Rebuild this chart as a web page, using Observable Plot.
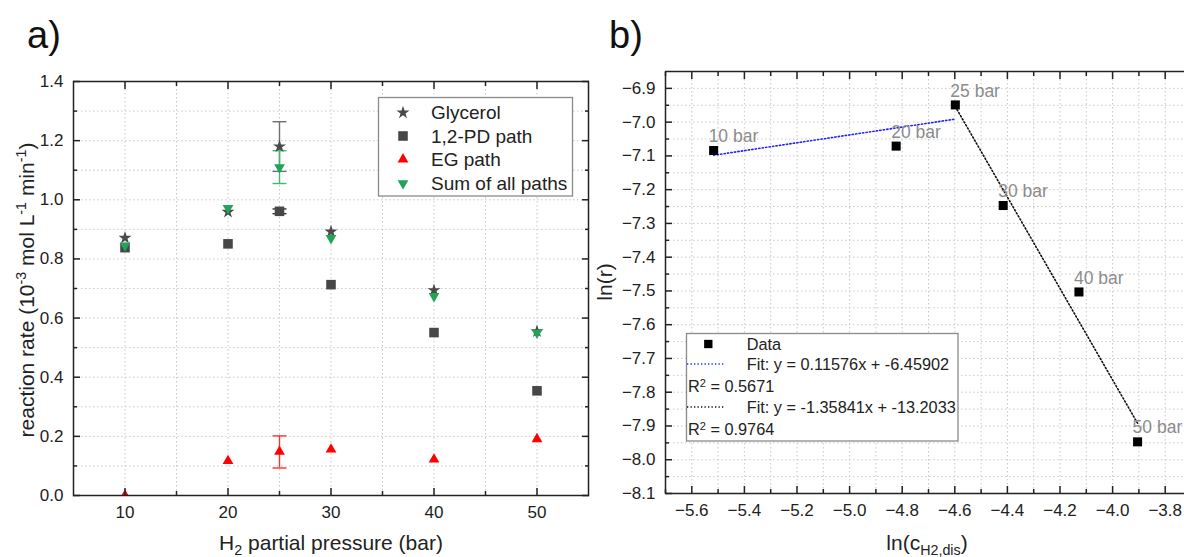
<!DOCTYPE html>
<html><head><meta charset="utf-8">
<script src="https://cdn.jsdelivr.net/npm/d3@7"></script>
<script src="https://cdn.jsdelivr.net/npm/@observablehq/plot@0.6"></script>
<style>
html,body{margin:0;padding:0;background:#fff;overflow:hidden;}
#wrap{position:relative;width:1184px;height:557px;overflow:hidden;font-family:"Liberation Sans",Arial,sans-serif;}
</style></head><body><div id="wrap"></div>
<script>
// ---------- panel a) data ----------
const pressure   = [10, 20, 25, 30, 40, 50];
const glycerol   = [0.871, 0.959, 1.180, 0.892, 0.694, 0.555];
const pd12Path   = [0.838, 0.851, 0.961, 0.713, 0.551, 0.354];
const egPath     = [0.0, 0.117, 0.148, 0.156, 0.122, 0.191];
const sumPaths   = [0.845, 0.972, 1.110, 0.870, 0.674, 0.550];

const errSeries   = ["Glycerol", "1,2-PD path", "EG path", "Sum of all paths"];
const errPressure = [25, 25, 25, 25];
const errLow      = [1.096, 0.953, 0.093, 1.055];
const errHigh     = [1.264, 0.969, 0.2015, 1.166];

const legendLeft = ["Glycerol", "1,2-PD path", "EG path", "Sum of all paths"];

const xTicksL = [10, 20, 30, 40, 50];
const xMinorL = [15, 25, 35, 45];
const yTicksL = [0, 0.2, 0.4, 0.6, 0.8, 1.0, 1.2, 1.4];
const yMinorL = [0.1, 0.3, 0.5, 0.7, 0.9, 1.1, 1.3];
const xGridL  = [10, 15, 20, 25, 30, 35, 40, 45, 50];
const yGridL  = [0.1, 0.2, 0.3, 0.4, 0.5, 0.6, 0.7, 0.8, 0.9, 1.0, 1.1, 1.2, 1.3];

// ---------- panel b) data ----------
const pointLabels = ["10 bar", "20 bar", "25 bar", "30 bar", "40 bar", "50 bar"];
const lnC = [-5.517, -4.823, -4.598, -4.416, -4.128, -3.905];
const lnR = [-7.084, -7.071, -6.949, -7.247, -7.503, -7.947];
const fitBlueX  = [-5.517, -4.598];
const fitBlueY  = [-7.098, -6.991];
const fitBlackX = [-4.598, -3.905];
const fitBlackY = [-6.954, -7.892];
const legendRight = ["Data", "Fit: y = 0.11576x + -6.45902", "0.5671", "Fit: y = -1.35841x + -13.2033", "0.9764"];

const xTicksR = [-5.6, -5.4, -5.2, -5.0, -4.8, -4.6, -4.4, -4.2, -4.0, -3.8];
const xMinorR = [-5.7, -5.5, -5.3, -5.1, -4.9, -4.7, -4.5, -4.3, -4.1, -3.9];
const yTicksR = [-6.9, -7.0, -7.1, -7.2, -7.3, -7.4, -7.5, -7.6, -7.7, -7.8, -7.9, -8.0, -8.1];
const yMinorR = [-6.95, -7.05, -7.15, -7.25, -7.35, -7.45, -7.55, -7.65, -7.75, -7.85, -7.95, -8.05];
const xGridR  = [-5.6, -5.5, -5.4, -5.3, -5.2, -5.1, -5.0, -4.9, -4.8, -4.7, -4.6, -4.5, -4.4, -4.3, -4.2, -4.1, -4.0, -3.9, -3.8];
const yGridR  = [-6.9, -6.95, -7.0, -7.05, -7.1, -7.15, -7.2, -7.25, -7.3, -7.35, -7.4, -7.45, -7.5, -7.55, -7.6, -7.65, -7.7, -7.75, -7.8, -7.85, -7.9, -7.95, -8.0, -8.05];

// ---------- styles ----------
const FONT = '"Liberation Sans", Arial, sans-serif';
const INK = "#222";
const colors = {"Glycerol": "#4a4a4a", "1,2-PD path": "#474747", "EG path": "#ff0000", "Sum of all paths": "#22a35a"};
const errColors = {"Glycerol": "#707070", "1,2-PD path": "#333", "EG path": "#ff3030", "Sum of all paths": "#3fb872"};
const gridStyle = {stroke: "#c9c9c9", strokeOpacity: 1, strokeWidth: 1, strokeDasharray: "1.5,2.5"};
const capSymbol = {draw(ctx, size) { const w = Math.sqrt(size); ctx.moveTo(-w / 2, 0); ctx.lineTo(w / 2, 0); }};
const blank = () => "";
const DOTS = "1.3,2.2";
const STAR_R = 4.1, SQ_R = 5.4, TRI_R = 4.0;

function tickAxes(axisFn, anchors, major, minor) {
  const out = [];
  for (const a of anchors) {
    out.push(axisFn(major, {anchor: a, tickSize: -7, tickFormat: blank, label: null, strokeWidth: 1.5}));
    out.push(axisFn(minor, {anchor: a, tickSize: -4, tickFormat: blank, label: null, strokeWidth: 1.5}));
  }
  return out;
}

// ---------- panel a) ----------
const rowsL = pressure.map((p, i) => ({p, glycerol: glycerol[i], pd: pd12Path[i], eg: egPath[i], sum: sumPaths[i]}));
const errRows = errSeries.map((s, i) => ({s, p: errPressure[i], lo: errLow[i], hi: errHigh[i]}));

const errMarks = [];
for (const s of errSeries) {
  const rows = errRows.filter(d => d.s === s);
  errMarks.push(Plot.ruleX(rows, {x: "p", y1: "lo", y2: "hi", stroke: errColors[s], strokeWidth: 1.4}));
  errMarks.push(Plot.dot(rows, {x: "p", y: "lo", symbol: capSymbol, r: 14 / Math.sqrt(Math.PI), fill: "none", stroke: errColors[s], strokeWidth: 1.4}));
  errMarks.push(Plot.dot(rows, {x: "p", y: "hi", symbol: capSymbol, r: 14 / Math.sqrt(Math.PI), fill: "none", stroke: errColors[s], strokeWidth: 1.4}));
}

const left = Plot.plot({
  width: 600, height: 557,
  marginLeft: 73, marginRight: 12, marginTop: 81, marginBottom: 62,
  style: {background: "none", overflow: "visible", maxWidth: "none", fontFamily: FONT, fontSize: "17px", color: INK},
  x: {domain: [5, 55]},
  y: {domain: [0, 1.4]},
  marks: [
    Plot.gridX(xGridL, gridStyle),
    Plot.gridY(yGridL, gridStyle),
    ...errMarks,
    Plot.dot(rowsL, {x: "p", y: "glycerol", symbol: "star", r: STAR_R, fill: colors["Glycerol"]}),
    Plot.dot(rowsL, {x: "p", y: "pd", symbol: "square", r: SQ_R, fill: colors["1,2-PD path"]}),
    Plot.dot(rowsL, {x: "p", y: "eg", symbol: "triangle", r: TRI_R, fill: colors["EG path"], clip: true}),
    Plot.dot(rowsL, {x: "p", y: "sum", symbol: "triangle", rotate: 180, r: TRI_R, fill: colors["Sum of all paths"]}),
    Plot.frame({stroke: INK, strokeWidth: 1.5}),
    Plot.axisX(xTicksL, {anchor: "bottom", tickSize: 0, tickPadding: 10, fontSize: 17, label: null}),
    Plot.axisY(yTicksL, {anchor: "left", tickSize: 0, tickPadding: 10, fontSize: 17, tickFormat: d3.format(".1f"), label: null}),
    ...tickAxes(Plot.axisX, ["bottom", "top"], xTicksL, xMinorL),
    ...tickAxes(Plot.axisY, ["left", "right"], yTicksL, yMinorL)
  ]
});
left.style.position = "absolute"; left.style.left = "0px"; left.style.top = "0px";

// ---------- panel b) ----------
const rowsR = lnC.map((x, i) => ({x, y: lnR[i], label: pointLabels[i]}));
const fitBlue = fitBlueX.map((x, i) => ({x, y: fitBlueY[i]}));
const fitBlack = fitBlackX.map((x, i) => ({x, y: fitBlackY[i]}));

const right = Plot.plot({
  width: 620, height: 557,
  marginLeft: 85, marginRight: 9, marginTop: 71, marginBottom: 64,
  style: {background: "none", overflow: "visible", maxWidth: "none", fontFamily: FONT, fontSize: "17px", color: INK},
  x: {domain: [-5.7, -3.7]},
  y: {domain: [-8.1, -6.85]},
  marks: [
    Plot.gridX(xGridR, gridStyle),
    Plot.gridY(yGridR, gridStyle),
    Plot.line(fitBlue, {x: "x", y: "y", stroke: "#2222ff", strokeWidth: 1.6, strokeDasharray: DOTS}),
    Plot.line(fitBlack, {x: "x", y: "y", stroke: "#111", strokeWidth: 1.6, strokeDasharray: DOTS}),
    Plot.dot(rowsR, {x: "x", y: "y", symbol: "square", r: 5.1, fill: "#000"}),
    Plot.text(rowsR, {x: "x", y: "y", text: "label", dx: -5, dy: -14, textAnchor: "start", fill: "#8c8c8c", fontSize: 17.5}),
    Plot.frame({stroke: INK, strokeWidth: 1.5}),
    Plot.axisX(xTicksR, {anchor: "bottom", tickSize: 0, tickPadding: 10, fontSize: 17, tickFormat: d3.format(".1f"), label: null}),
    Plot.axisY(yTicksR, {anchor: "left", tickSize: 0, tickPadding: 10, fontSize: 17, tickFormat: d3.format(".1f"), label: null}),
    ...tickAxes(Plot.axisX, ["bottom", "top"], xTicksR, xMinorR),
    ...tickAxes(Plot.axisY, ["left", "right"], yTicksR, yMinorR)
  ]
});
right.style.position = "absolute"; right.style.left = "580px"; right.style.top = "0px";

const wrap = document.getElementById("wrap");
wrap.appendChild(left);
wrap.appendChild(right);

// ---------- annotations: panel letters, axis titles, legends ----------
function addText(svg, x, y, size, parts, rotate) {
  const t = d3.select(svg).append("text")
    .attr("transform", `translate(${x},${y})` + (rotate ? ` rotate(${rotate})` : ""))
    .attr("text-anchor", "middle").attr("font-size", size).attr("fill", INK)
    .attr("font-family", FONT);
  let shift = 0;
  for (const [txt, kind] of parts) {
    const target = kind === "sup" ? -0.4 * size : kind === "sub" ? 0.25 * size : 0;
    t.append("tspan").attr("dy", target - shift).attr("font-size", kind ? size * 0.68 : size).text(txt);
    shift = target;
  }
  return t;
}
const sl = d3.select(left), sr = d3.select(right);
sl.append("text").attr("x", 27).attr("y", 48).attr("text-anchor", "start").attr("font-size", 38).attr("font-family", FONT).attr("fill", "#111").text("a)");
sr.append("text").attr("x", 29).attr("y", 48).attr("text-anchor", "start").attr("font-size", 38).attr("font-family", FONT).attr("fill", "#111").text("b)");

addText(left, 331, 550, 21, [["H"], ["2", "sub"], [" partial pressure (bar)"]]);
addText(left, 34, 290, 21, [["reaction rate (10"], ["-3", "sup"], [" mol L"], ["-1", "sup"], [" min"], ["-1", "sup"], [")"]], -90);
addText(right, 347, 550, 21, [["ln(c"], ["H2,dis", "sub"], [")"]]);
addText(right, 32, 282, 21, [["ln(r)"]], -90);

// legend a)
{
  const g = sl.append("g").attr("font-family", FONT).attr("text-anchor", "start");
  g.append("rect").attr("x", 378.5).attr("y", 97.5).attr("width", 194).attr("height", 98.5)
    .attr("fill", "#fff").attr("stroke", "#8a8a8a").attr("stroke-width", 1.3);
  const rowsY = [112.7, 136, 159.3, 183.3];
  const syms = [
    {type: d3.symbolStar, size: STAR_R * STAR_R * Math.PI, rot: 0},
    {type: d3.symbolSquare, size: SQ_R * SQ_R * Math.PI, rot: 0},
    {type: d3.symbolTriangle, size: TRI_R * TRI_R * Math.PI, rot: 0},
    {type: d3.symbolTriangle, size: TRI_R * TRI_R * Math.PI, rot: 180}
  ];
  legendLeft.forEach((name, i) => {
    g.append("path").attr("d", d3.symbol(syms[i].type, syms[i].size)())
      .attr("transform", `translate(403,${rowsY[i]}) rotate(${syms[i].rot})`).attr("fill", colors[name]);
    g.append("text").attr("x", 431).attr("y", rowsY[i]).attr("dy", "0.35em").attr("font-size", 19).attr("fill", INK).text(name);
  });
}

// legend b)
{
  const ox = -580;
  const g = sr.append("g").attr("font-family", FONT).attr("font-size", 16.3).attr("fill", INK).attr("text-anchor", "start");
  g.append("rect").attr("x", 686.5 + ox).attr("y", 333.5).attr("width", 271.5).attr("height", 107.5)
    .attr("fill", "#fff").attr("stroke", "#8a8a8a").attr("stroke-width", 1.3);
  const rowsY = [344, 364, 386.5, 407, 429.5];
  g.append("path").attr("d", d3.symbol(d3.symbolSquare, 5.1 * 5.1 * Math.PI * 0.85)())
    .attr("transform", `translate(${708.3 + ox},${rowsY[0]})`).attr("fill", "#000");
  g.append("text").attr("x", 746.7 + ox).attr("y", rowsY[0]).attr("dy", "0.35em").text(legendRight[0]);
  g.append("line").attr("x1", 687 + ox).attr("x2", 725 + ox).attr("y1", rowsY[1]).attr("y2", rowsY[1])
    .attr("stroke", "#2222ff").attr("stroke-width", 1.6).attr("stroke-dasharray", DOTS);
  g.append("text").attr("x", 746.7 + ox).attr("y", rowsY[1]).attr("dy", "0.35em").text(legendRight[1]);
  const r2 = (y, v) => {
    const t = g.append("text").attr("x", 688 + ox).attr("y", y).attr("dy", "0.35em");
    t.append("tspan").text("R");
    t.append("tspan").attr("dy", "-0.45em").attr("font-size", 11).text("2");
    t.append("tspan").attr("dy", "0.3em").text(" = " + v);
  };
  r2(rowsY[2], legendRight[2]);
  g.append("line").attr("x1", 687 + ox).attr("x2", 725 + ox).attr("y1", rowsY[3]).attr("y2", rowsY[3])
    .attr("stroke", "#111").attr("stroke-width", 1.6).attr("stroke-dasharray", DOTS);
  g.append("text").attr("x", 746.7 + ox).attr("y", rowsY[3]).attr("dy", "0.35em").text(legendRight[3]);
  r2(rowsY[4], legendRight[4]);
}
</script></body></html>
